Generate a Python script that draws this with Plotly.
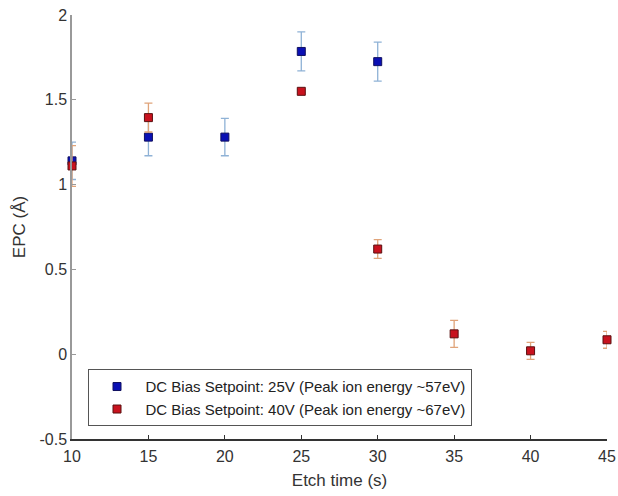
import plotly.graph_objects as go

etch_time_25 = [10, 15, 20, 25, 30]
epc_25 = [1.14, 1.28, 1.28, 1.785, 1.725]
err_25 = [0.11, 0.11, 0.11, 0.115, 0.115]

etch_time_40 = [10, 15, 25, 30, 35, 40, 45]
epc_40 = [1.11, 1.395, 1.55, 0.62, 0.12, 0.02, 0.085]
err_40 = [0.12, 0.085, 0.01, 0.055, 0.08, 0.05, 0.05]

name_25 = "DC Bias Setpoint: 25V (Peak ion energy ~57eV)"
name_40 = "DC Bias Setpoint: 40V (Peak ion energy ~67eV)"

fig = go.Figure()
fig.add_trace(go.Scatter(
    x=etch_time_25, y=epc_25, mode="markers", name=name_25, cliponaxis=False,
    marker=dict(symbol="square", size=8, color="#0a10b4", line=dict(color="#101060", width=1)),
    error_y=dict(type="data", array=err_25, visible=True, color="#8fb2d6", thickness=1.3, width=4),
))
fig.add_trace(go.Scatter(
    x=etch_time_40, y=epc_40, mode="markers", name=name_40, cliponaxis=False,
    marker=dict(symbol="square", size=8, color="#c8121e", line=dict(color="#5a1010", width=1)),
    error_y=dict(type="data", array=err_40, visible=True, color="#e0a47a", thickness=1.3, width=4),
))

font = dict(family="Liberation Sans, Arial, sans-serif", size=16, color="#333333")

fig.update_layout(
    width=618, height=496,
    margin=dict(l=72, r=11, t=15, b=57),
    paper_bgcolor="white", plot_bgcolor="white",
    font=font,
    showlegend=True,
    legend=dict(
        x=0.029, y=0.03, xanchor="left", yanchor="bottom",
        bgcolor="white", bordercolor="#555555", borderwidth=1,
        font=dict(family="Liberation Sans, Arial, sans-serif", size=15, color="#222222"),
        itemwidth=47, tracegroupgap=0,
    ),
)
fig.update_xaxes(
    range=[10, 45], tickvals=[10, 15, 20, 25, 30, 35, 40, 45], automargin=False,
    showgrid=False, zeroline=False, showline=True, linecolor="#333333", linewidth=1.5,
    ticks="inside", ticklen=4, tickcolor="#333333", ticklabelstandoff=2,
    title=dict(text="Etch time (s)", standoff=10, font=dict(size=17, color="#333333")),
)
fig.update_yaxes(
    range=[-0.5, 2], tickvals=[-0.5, 0, 0.5, 1, 1.5, 2], automargin=False,
    ticktext=["-0.5", "0", "0.5", "1", "1.5", "2"],
    showgrid=False, zeroline=False, showline=True, linecolor="#999999", linewidth=1.5,
    ticks="inside", ticklen=4, tickcolor="#999999",
    title=dict(text="EPC (Å)", standoff=10, font=dict(size=17, color="#333333")),
)

fig.write_html("out.html")
